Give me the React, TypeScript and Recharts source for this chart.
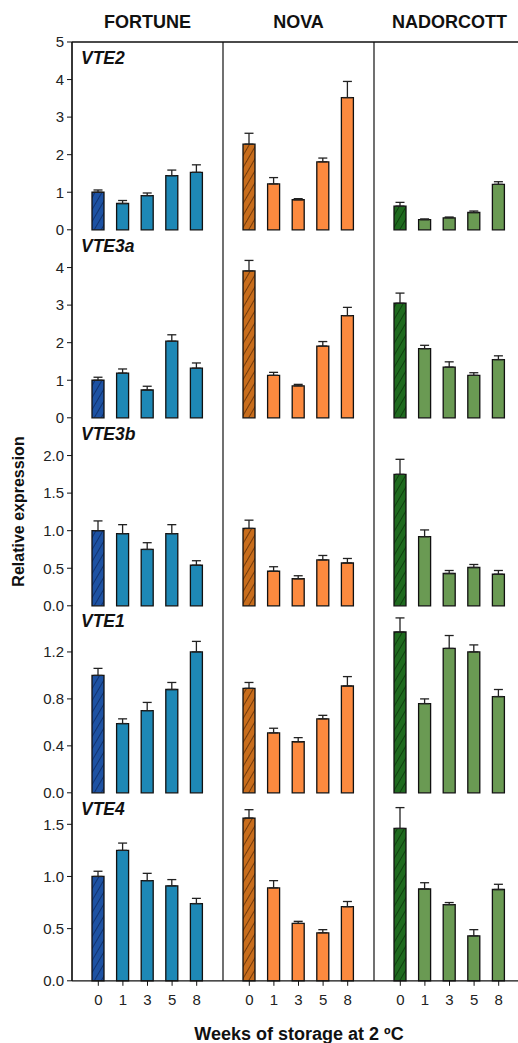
import { Bar, BarChart, Cell, ErrorBar, ReferenceLine, XAxis, YAxis } from 'recharts';

const weeks = ['0', '1', '3', '5', '8'];
const cultivars = ['FORTUNE', 'NOVA', 'NADORCOTT'];
const genes = ['VTE2', 'VTE3a', 'VTE3b', 'VTE1', 'VTE4'];

// relative expression (mean) and upper error per week
const vte2Fortune = [1.0, 0.7, 0.91, 1.44, 1.53];
const vte2FortuneErr = [0.06, 0.08, 0.07, 0.15, 0.2];
const vte2Nova = [2.28, 1.22, 0.8, 1.81, 3.52];
const vte2NovaErr = [0.29, 0.17, 0.03, 0.1, 0.43];
const vte2Nadorcott = [0.63, 0.27, 0.32, 0.46, 1.21];
const vte2NadorcottErr = [0.1, 0.02, 0.02, 0.04, 0.07];

const vte3aFortune = [1.0, 1.19, 0.74, 2.04, 1.32];
const vte3aFortuneErr = [0.08, 0.11, 0.1, 0.17, 0.14];
const vte3aNova = [3.91, 1.13, 0.85, 1.91, 2.72];
const vte3aNovaErr = [0.28, 0.08, 0.04, 0.12, 0.22];
const vte3aNadorcott = [3.05, 1.84, 1.35, 1.13, 1.55];
const vte3aNadorcottErr = [0.27, 0.09, 0.14, 0.07, 0.1];

const vte3bFortune = [1.0, 0.96, 0.75, 0.96, 0.54];
const vte3bFortuneErr = [0.13, 0.12, 0.09, 0.12, 0.06];
const vte3bNova = [1.03, 0.46, 0.36, 0.61, 0.57];
const vte3bNovaErr = [0.11, 0.06, 0.04, 0.06, 0.06];
const vte3bNadorcott = [1.75, 0.92, 0.43, 0.51, 0.42];
const vte3bNadorcottErr = [0.2, 0.09, 0.04, 0.04, 0.05];

const vte1Fortune = [1.0, 0.59, 0.7, 0.88, 1.2];
const vte1FortuneErr = [0.06, 0.04, 0.07, 0.06, 0.09];
const vte1Nova = [0.89, 0.51, 0.435, 0.63, 0.91];
const vte1NovaErr = [0.05, 0.04, 0.035, 0.03, 0.08];
const vte1Nadorcott = [1.37, 0.76, 1.23, 1.2, 0.82];
const vte1NadorcottErr = [0.12, 0.04, 0.11, 0.06, 0.06];

const vte4Fortune = [1.0, 1.25, 0.96, 0.91, 0.74];
const vte4FortuneErr = [0.05, 0.07, 0.07, 0.06, 0.05];
const vte4Nova = [1.56, 0.89, 0.55, 0.46, 0.71];
const vte4NovaErr = [0.08, 0.07, 0.02, 0.03, 0.05];
const vte4Nadorcott = [1.46, 0.88, 0.73, 0.43, 0.875];
const vte4NadorcottErr = [0.2, 0.06, 0.02, 0.06, 0.05];

const means = [
  [vte2Fortune, vte2Nova, vte2Nadorcott],
  [vte3aFortune, vte3aNova, vte3aNadorcott],
  [vte3bFortune, vte3bNova, vte3bNadorcott],
  [vte1Fortune, vte1Nova, vte1Nadorcott],
  [vte4Fortune, vte4Nova, vte4Nadorcott],
];
const errors = [
  [vte2FortuneErr, vte2NovaErr, vte2NadorcottErr],
  [vte3aFortuneErr, vte3aNovaErr, vte3aNadorcottErr],
  [vte3bFortuneErr, vte3bNovaErr, vte3bNadorcottErr],
  [vte1FortuneErr, vte1NovaErr, vte1NadorcottErr],
  [vte4FortuneErr, vte4NovaErr, vte4NadorcottErr],
];

const yMax = [5, 5, 2.5, 1.6, 1.8];
const yTicks = [
  [0, 1, 2, 3, 4, 5],
  [0, 1, 2, 3, 4],
  [0, 0.5, 1, 1.5, 2],
  [0, 0.4, 0.8, 1.2],
  [0, 0.5, 1, 1.5],
];
const tickDecimals = [0, 0, 1, 1, 1];

const FONT = '"Liberation Sans", Arial, sans-serif';
const fills = ['#1e88b6', '#fc8a3f', '#6a9a53'];
const hatchBg = ['#1d52a3', '#c86d1c', '#1f6b1f'];
const hatchLine = ['#0b2a62', '#5c2c06', '#0a360a'];

const LEFT = 72;
const TOP = 42;
const COL_W = 151;
const ROW_H = 187.8;
const Y_W = 45;
const X_H = 32;
const PAD = 12;

function Panel({ row, col }: { row: number; col: number }) {
  const first = col === 0;
  const last = row === genes.length - 1;
  const yW = first ? Y_W : 0;
  const xH = last ? X_H : 0;
  const data = weeks.map((w, i) => ({
    week: w,
    value: means[row][col][i],
    err: [0, errors[row][col][i]],
  }));

  return (
    <div
      style={{
        position: 'absolute',
        left: LEFT + col * COL_W - yW - PAD,
        top: TOP + row * ROW_H - PAD,
      }}
    >
      <BarChart
        width={COL_W + yW + 2 * PAD}
        height={ROW_H + xH + 2 * PAD}
        data={data}
        margin={{ top: PAD, right: PAD, bottom: PAD, left: PAD }}
      >
        <XAxis
          dataKey="week"
          interval={0}
          height={xH}
          padding={{ left: 14, right: 14 }}
          axisLine={{ stroke: '#111', strokeWidth: 1.2 }}
          tick={last ? { fontSize: 15, fill: '#222', fontFamily: FONT } : false}
          tickLine={last ? { stroke: '#111' } : false}
          tickSize={5}
          tickMargin={9}
        />
        <YAxis
          width={yW}
          domain={[0, yMax[row]]}
          ticks={yTicks[row]}
          interval={0}
          axisLine={{ stroke: '#111', strokeWidth: 1.2 }}
          tick={first ? { fontSize: 15, fill: '#222', fontFamily: FONT } : false}
          tickLine={first ? { stroke: '#111' } : false}
          tickSize={5}
          tickMargin={3}
          tickFormatter={(v: number) => v.toFixed(tickDecimals[row])}
        />
        {row === 0 && (
          <ReferenceLine y={yMax[row]} stroke="#111" strokeWidth={1.2} />
        )}
        <Bar
          dataKey="value"
          barSize={12}
          stroke="#111"
          strokeWidth={1.3}
          isAnimationActive={false}
        >
          {data.map((d, i) => (
            <Cell
              key={d.week}
              fill={i === 0 ? `url(#hatch${col})` : fills[col]}
            />
          ))}
          <ErrorBar dataKey="err" width={4.5} stroke="#222" strokeWidth={1.3} />
        </Bar>
      </BarChart>
    </div>
  );
}

export default function App() {
  const bottom = TOP + ROW_H * genes.length;
  return (
    <div
      style={{
        position: 'absolute',
        left: 0,
        top: 0,
        width: 518,
        height: 1043,
        overflow: 'hidden',
        background: '#fff',
        fontFamily: FONT,
      }}
    >
      <svg width={0} height={0} style={{ position: 'absolute' }}>
        <defs>
          {hatchBg.map((bg, c) => (
            <pattern
              key={c}
              id={`hatch${c}`}
              width={6}
              height={6}
              patternUnits="userSpaceOnUse"
              patternTransform="rotate(30)"
            >
              <rect width={6} height={6} fill={bg} />
              <line x1={0} y1={0} x2={0} y2={6} stroke={hatchLine[c]} strokeWidth={1.6} />
            </pattern>
          ))}
        </defs>
      </svg>

      {genes.map((g, r) =>
        cultivars.map((c, ci) => <Panel key={`${g}-${c}`} row={r} col={ci} />),
      )}

      <svg
        width={518}
        height={1043}
        style={{ position: 'absolute', left: 0, top: 0, pointerEvents: 'none' }}
      >
        {/* panel frame */}
        <line x1={LEFT} y1={TOP} x2={518} y2={TOP} stroke="#111" strokeWidth={1.2} />
        {cultivars.map((c, i) => (
          <line
            key={c}
            x1={LEFT + i * COL_W}
            y1={TOP}
            x2={LEFT + i * COL_W}
            y2={bottom}
            stroke="#111"
            strokeWidth={1.2}
          />
        ))}
        {cultivars.map((c, i) => (
          <text
            key={c}
            x={LEFT + i * COL_W + COL_W / 2}
            y={28}
            textAnchor="middle"
            fontFamily={FONT}
            fontWeight="bold"
            fontSize={18}
            fill="#111"
          >
            {c}
          </text>
        ))}
        {genes.map((g, r) => (
          <text
            key={g}
            x={LEFT + 9}
            y={TOP + r * ROW_H + 22}
            fontFamily={FONT}
            fontWeight="bold"
            fontStyle="italic"
            fontSize={17.5}
            fill="#111"
          >
            {g}
          </text>
        ))}
        <text
          transform={`translate(24, ${TOP + (ROW_H * genes.length) / 2}) rotate(-90)`}
          textAnchor="middle"
          fontFamily={FONT}
          fontWeight="bold"
          fontSize={16}
          fill="#111"
        >
          Relative expression
        </text>
        <text
          x={299}
          y={1040}
          textAnchor="middle"
          fontFamily={FONT}
          fontWeight="bold"
          fontSize={18}
          fill="#111"
        >
          Weeks of storage at 2 ºC
        </text>
      </svg>
    </div>
  );
}
